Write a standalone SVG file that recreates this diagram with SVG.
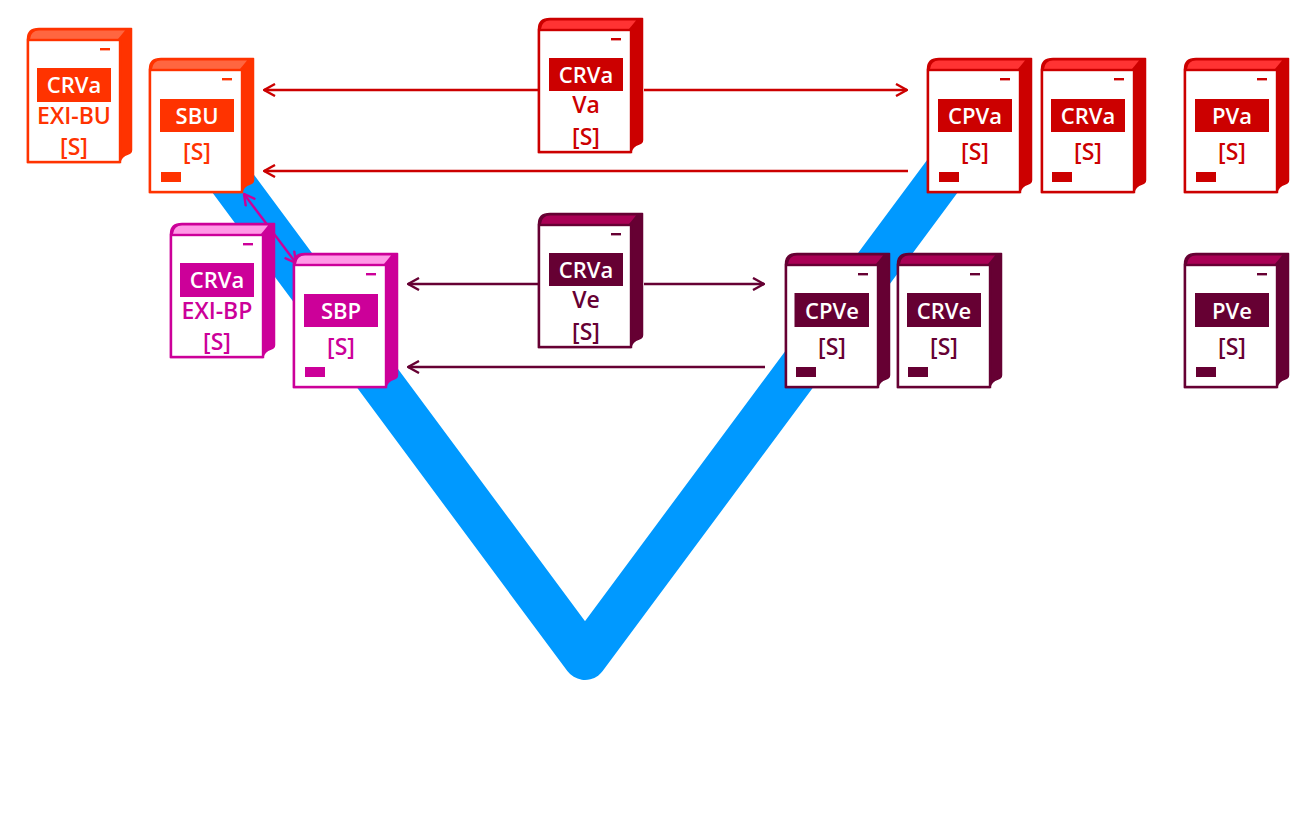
<svg xmlns="http://www.w3.org/2000/svg" width="1301" height="830" viewBox="0 0 1301 830">
<style>
text{font-family:"Open Sans","Noto Sans","Liberation Sans",sans-serif;font-weight:600;font-size:22px;text-anchor:middle;fill:currentColor}
text.w{fill:#fff}
text.l{font-size:23px}
.o{color:#FF3300;--l:#FF6640}
.r{color:#CC0000;--l:#FF3333}
.m{color:#CC0099;--l:#FF99E6}
.p{color:#660033;--l:#AA0055}
.c{fill:none;stroke-width:2.400}
</style>
<defs>
<g id="body">
<path d="M0.500,13 V11 Q0.500,0.500 12,0.500 H104.500 V122 Q104.500,125 101,126 Q94,128 93,134.500 H0.500 Z" fill="currentColor" stroke="currentColor" stroke-width="1.500" stroke-linejoin="round"/>
<path d="M3,11 Q4,2.500 12,2.500 H98 L91,11 Z" fill="var(--l)"/>
<rect x="1" y="12" width="92" height="122" fill="#fff" stroke="currentColor" stroke-width="2.400"/>
<rect x="73" y="20" width="10" height="2.400" fill="currentColor"/>
</g>
<marker id="ar" viewBox="0 0 14 14" refX="13" refY="7" markerWidth="14" markerHeight="14" markerUnits="userSpaceOnUse" orient="auto-start-reverse"><path d="M2,1 L13,7 L2,13" fill="none" stroke="#CC0000" stroke-width="2.400"/></marker>
<marker id="ap" viewBox="0 0 14 14" refX="13" refY="7" markerWidth="14" markerHeight="14" markerUnits="userSpaceOnUse" orient="auto-start-reverse"><path d="M2,1 L13,7 L2,13" fill="none" stroke="#660033" stroke-width="2.400"/></marker>
<marker id="am" viewBox="0 0 14 14" refX="13" refY="7" markerWidth="14" markerHeight="14" markerUnits="userSpaceOnUse" orient="auto-start-reverse"><path d="M2,1 L13,7 L2,13" fill="none" stroke="#CC0099" stroke-width="2.400"/></marker>
</defs>
<path id="vee" d="M223,170 L585,658 L947,170" fill="none" stroke="#0099FF" stroke-width="44" stroke-linejoin="round"/>
<g id="connectors">
<path class="c" stroke="#CC0000" d="M539,90 H264" marker-end="url(#ar)"/>
<path class="c" stroke="#CC0000" d="M644,90 H907" marker-end="url(#ar)"/>
<path class="c" stroke="#CC0000" d="M908,171 H264" marker-end="url(#ar)"/>
<path class="c" stroke="#660033" d="M539,284 H408" marker-end="url(#ap)"/>
<path class="c" stroke="#660033" d="M644,284 H764" marker-end="url(#ap)"/>
<path class="c" stroke="#660033" d="M765,367 H408" marker-end="url(#ap)"/>
<path class="c" stroke="#CC0099" d="M244,194 L296,263" marker-start="url(#am)" marker-end="url(#am)"/>
</g>
<g id="n-crva-exi-bu" class="o" transform="translate(27,28)"><use href="#body"/><rect x="10" y="40" width="74" height="34" fill="currentColor"/><text class="w" x="47" y="65">CRVa</text><text class="l" x="47" y="96">EXI-BU</text><text class="l" x="47" y="127">[S]</text></g>
<g id="n-sbu" class="o" transform="translate(149,58)"><use href="#body"/><rect x="11" y="41" width="74" height="33" fill="currentColor"/><text class="w" x="48" y="66">SBU</text><text class="l" x="48" y="101.500">[S]</text><rect x="12" y="114" width="20" height="10" fill="currentColor"/></g>
<g id="n-crva-va" class="r" transform="translate(538,18)"><use href="#body"/><rect x="11" y="40" width="74" height="33" fill="currentColor"/><text class="w" x="48" y="65">CRVa</text><text class="l" x="48" y="95">Va</text><text class="l" x="48" y="127">[S]</text></g>
<g id="n-cpva" class="r" transform="translate(927,58)"><use href="#body"/><rect x="11" y="41" width="74" height="33" fill="currentColor"/><text class="w" x="48" y="66">CPVa</text><text class="l" x="48" y="101.500">[S]</text><rect x="12" y="114" width="20" height="10" fill="currentColor"/></g>
<g id="n-crva" class="r" transform="translate(1041,58)"><use href="#body"/><rect x="10" y="41" width="74" height="33" fill="currentColor"/><text class="w" x="47" y="66">CRVa</text><text class="l" x="47" y="101.500">[S]</text><rect x="11" y="114" width="20" height="10" fill="currentColor"/></g>
<g id="n-pva" class="r" transform="translate(1184,58)"><use href="#body"/><rect x="11" y="41" width="74" height="33" fill="currentColor"/><text class="w" x="48" y="66">PVa</text><text class="l" x="48" y="101.500">[S]</text><rect x="12" y="114" width="20" height="10" fill="currentColor"/></g>
<g id="n-crva-exi-bp" class="m" transform="translate(170,223)"><use href="#body"/><rect x="10" y="40" width="74" height="34" fill="currentColor"/><text class="w" x="47" y="65">CRVa</text><text class="l" x="47" y="96">EXI-BP</text><text class="l" x="47" y="127">[S]</text></g>
<g id="n-sbp" class="m" transform="translate(293,253)"><use href="#body"/><rect x="11" y="41" width="74" height="33" fill="currentColor"/><text class="w" x="48" y="66">SBP</text><text class="l" x="48" y="101.500">[S]</text><rect x="12" y="114" width="20" height="10" fill="currentColor"/></g>
<g id="n-crva-ve" class="p" transform="translate(538,213)"><use href="#body"/><rect x="11" y="40" width="74" height="33" fill="currentColor"/><text class="w" x="48" y="65">CRVa</text><text class="l" x="48" y="95">Ve</text><text class="l" x="48" y="127">[S]</text></g>
<g id="n-cpve" class="p" transform="translate(785,253)"><use href="#body"/><rect x="9.500" y="40" width="74.500" height="34" fill="currentColor"/><text class="w" x="47" y="65.500">CPVe</text><text class="l" x="47" y="101.500">[S]</text><rect x="11" y="114" width="20" height="10" fill="currentColor"/></g>
<g id="n-crve" class="p" transform="translate(897,253)"><use href="#body"/><rect x="10" y="40" width="74" height="34" fill="currentColor"/><text class="w" x="47" y="65.500">CRVe</text><text class="l" x="47" y="101.500">[S]</text><rect x="11" y="114" width="20" height="10" fill="currentColor"/></g>
<g id="n-pve" class="p" transform="translate(1184,253)"><use href="#body"/><rect x="11" y="40" width="74" height="34" fill="currentColor"/><text class="w" x="48" y="65.500">PVe</text><text class="l" x="48" y="101.500">[S]</text><rect x="12" y="114" width="20" height="10" fill="currentColor"/></g>
</svg>
